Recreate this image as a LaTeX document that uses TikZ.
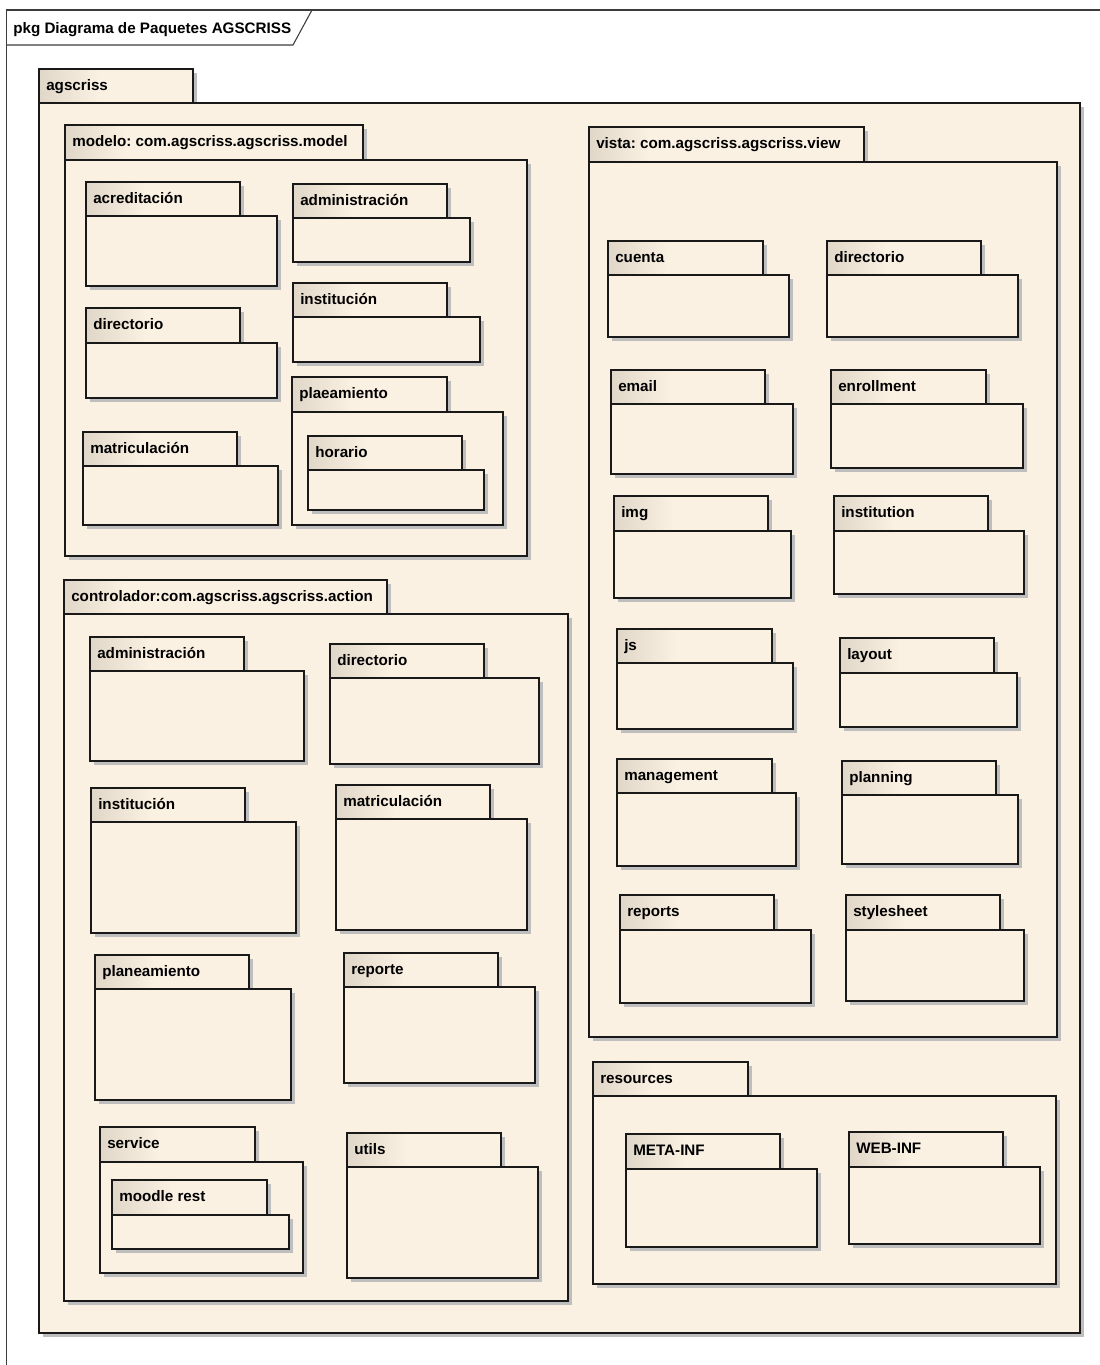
\documentclass[tikz,border=0pt]{standalone}
\usepackage{fontspec}
\setmainfont{Liberation Sans}
\frenchspacing
\definecolor{pkgfill}{RGB}{251,241,227}
\definecolor{tabdark}{RGB}{224,215,200}
\definecolor{shadowc}{RGB}{190,190,190}
\definecolor{framec}{RGB}{60,60,60}
\tikzset{
  pkgline/.style={draw=black!90,line width=1.1pt},
  pkglabel/.style={anchor=base west,inner sep=0pt,font=\fontsize{11.4pt}{13pt}\selectfont\bfseries},
  framelabel/.style={anchor=base west,inner sep=0pt,font=\fontsize{11.4pt}{13pt}\selectfont\bfseries}
}
% #1 name, #2 tabL, #3 tabT, #4 tabR, #5 tabB, #6 bodyR, #7 bodyB, #8 label
\newcommand\umlpkg[8]{%
  \fill[shadowc] (#2+4,#3+4) rectangle (#4+4,#5+4);
  \fill[shadowc] (#2+4,#5+4) rectangle (#6+4,#7+4);
  \fill[pkgfill] (#2,#3) rectangle (#4,#5);
  \shade[left color=tabdark,right color=pkgfill] (#2,#3) rectangle (#2+60,#5);
  \fill[pkgfill] (#2,#5) rectangle (#6,#7);
  \draw[pkgline] (#2,#3) rectangle (#4,#5);
  \draw[pkgline] (#2,#5) rectangle (#6,#7);
  \node[pkglabel] (#1) at (#2+7,#3+21) {#8};
}
\begin{document}
\begin{tikzpicture}[x=0.75pt,y=-0.75pt]
\useasboundingbox (0,0) rectangle (1100,1365);
\fill[white] (0,0) rectangle (1100,1365);
% diagram frame
\draw[framec,line width=0.8pt] (1100,10) -- (6.5,10) -- (6.5,1365);
\draw[framec,line width=0.8pt] (6.5,10) -- (312,10) -- (293,45) -- (6.5,45);
\node[framelabel] (title) at (13,33) {pkg Diagrama de Paquetes AGSCRISS};
% agscriss
\umlpkg{agscriss}{39}{69}{193}{103}{1080}{1333}{agscriss}
% modelo
\umlpkg{modelo}{65}{125}{363}{160}{527}{556}{modelo: com.agscriss.agscriss.model}
\umlpkg{macred}{86}{182}{240}{216}{277}{286}{acreditación}
\umlpkg{madmin}{293}{184}{447}{218}{470}{262}{administración}
\umlpkg{mdir}{86}{308}{240}{343}{277}{398}{directorio}
\umlpkg{minst}{293}{283}{447}{317}{480}{362}{institución}
\umlpkg{mplae}{292}{377}{447}{412}{503}{525}{plaeamiento}
\umlpkg{mhor}{308}{436}{462}{470}{484}{510}{horario}
\umlpkg{mmatr}{83}{432}{237}{466}{278}{525}{matriculación}
% controlador
\umlpkg{ctrl}{64}{580}{387}{614}{568}{1301}{controlador:com.agscriss.agscriss.action}
\umlpkg{cadmin}{90}{637}{244}{671}{304}{761}{administración}
\umlpkg{cdir}{330}{644}{484}{678}{539}{764}{directorio}
\umlpkg{cinst}{91}{788}{245}{822}{296}{933}{institución}
\umlpkg{cmatr}{336}{785}{490}{819}{527}{930}{matriculación}
\umlpkg{cplan}{95}{955}{249}{989}{291}{1100}{planeamiento}
\umlpkg{crep}{344}{953}{498}{987}{535}{1083}{reporte}
\umlpkg{cserv}{100}{1127}{255}{1162}{303}{1273}{service}
\umlpkg{cmood}{112}{1180}{267}{1215}{289}{1249}{moodle rest}
\umlpkg{cutil}{347}{1133}{501}{1167}{538}{1278}{utils}
% vista
\umlpkg{vista}{589}{127}{864}{162}{1057}{1037}{vista: com.agscriss.agscriss.view}
\umlpkg{vcuenta}{608}{241}{763}{275}{789}{337}{cuenta}
\umlpkg{vdir}{827}{241}{981}{275}{1018}{337}{directorio}
\umlpkg{vemail}{611}{370}{765}{404}{793}{474}{email}
\umlpkg{venroll}{831}{370}{986}{404}{1023}{468}{enrollment}
\umlpkg{vimg}{614}{496}{768}{531}{791}{598}{img}
\umlpkg{vinst}{834}{496}{988}{531}{1024}{594}{institution}
\umlpkg{vjs}{617}{629}{772}{663}{793}{729}{js}
\umlpkg{vlayout}{840}{638}{994}{673}{1017}{727}{layout}
\umlpkg{vmgmt}{617}{759}{772}{793}{796}{866}{management}
\umlpkg{vplan}{842}{761}{996}{795}{1018}{864}{planning}
\umlpkg{vrep}{620}{895}{774}{930}{811}{1003}{reports}
\umlpkg{vstyle}{846}{895}{1000}{930}{1024}{1001}{stylesheet}
% resources
\umlpkg{res}{593}{1062}{748}{1096}{1056}{1284}{resources}
\umlpkg{rmeta}{626}{1134}{780}{1169}{817}{1247}{META-INF}
\umlpkg{rweb}{849}{1132}{1003}{1167}{1040}{1244}{WEB-INF}
\end{tikzpicture}
\end{document}
